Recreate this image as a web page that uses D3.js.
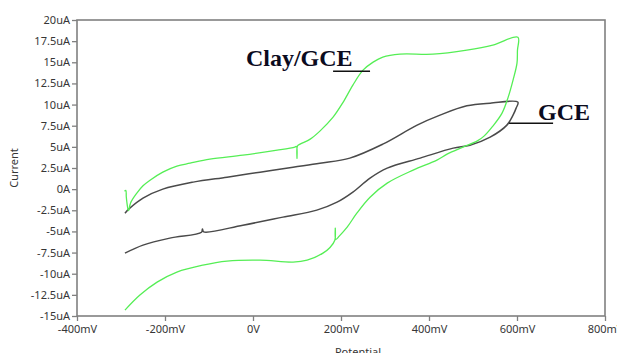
<!DOCTYPE html>
<html>
<head>
<meta charset="utf-8">
<script src="https://cdn.jsdelivr.net/npm/d3@7/dist/d3.min.js"></script>
<style>
  html, body { margin: 0; padding: 0; background: #fff; }
  svg { display: block; }
  .tick-label { font-family: "Noto Sans", sans-serif; font-size: 11px; fill: #363636; }
  .note { font-family: "Liberation Serif", "Times New Roman", serif; font-weight: bold; font-size: 24px; fill: #0b0b1e; }
</style>
</head>
<body>
<svg id="chart" width="617" height="353"></svg>
<script>
// Cyclic voltammograms: potential (mV) vs current (uA)
const clayPotential = [-292, -289, -288, -286, -283, -278, -264, -250, -234, -205, -173, -143, -98, -23, 55, 95, 99, 100, 101, 107, 130, 152, 182, 205, 227, 250, 273, 295, 334, 409, 486, 545, 602,
  601, 600, 591, 580, 566, 545, 525, 509, 477, 441, 418, 364, 305, 266, 236, 214, 196, 188, 187, 186, 175, 159, 123, 91, 16, -59, -114, -173, -218, -257, -291];
const clayCurrent = [-0.25, -0.15, -0.9, -1.8, -2.55, -1.6, -0.47, 0.4, 1.06, 2.01, 2.72, 3.07, 3.55, 4.02, 4.61, 4.97, 5.05, 3.65, 5.1, 5.32, 5.91, 6.86, 8.51, 10.29, 12.3, 14.07, 15.02, 15.61, 15.96, 15.96, 16.44, 17.03, 17.97,
  16.4, 14.9, 12.89, 10.88, 8.99, 7.45, 6.27, 5.67, 4.97, 4.14, 3.43, 2.25, 0.71, -0.95, -2.84, -4.49, -5.55, -5.95, -4.6, -6.05, -6.9, -7.57, -8.4, -8.63, -8.4, -8.51, -8.99, -9.81, -11.0, -12.53, -14.31];

const gcePotential = [-291, -280, -250, -205, -136, -59, 16, 91, 152, 220, 295, 373, 425, 486, 539, 602,
  598, 591, 577, 539, 493, 455, 380, 305, 266, 227, 191, 145, 68, -23, -112, -115, -117, -189, -250, -291];
const gceCurrent = [-2.84, -2.25, -1.06, 0, 0.83, 1.42, 2.01, 2.6, 3.07, 3.67, 5.32, 7.57, 8.75, 9.85, 10.17, 10.29,
  9.58, 8.75, 7.57, 6.15, 5.2, 4.85, 3.67, 2.48, 1.3, -0.35, -1.54, -2.48, -3.31, -4.26, -5.05, -4.7, -5.1, -5.79, -6.62, -7.57];

const xTickValues = [-400, -200, 0, 200, 400, 600, 800];
const xTickLabels = ["-400mV", "-200mV", "0V", "200mV", "400mV", "600mV", "800mV"];
const yTickValues = [20, 17.5, 15, 12.5, 10, 7.5, 5, 2.5, 0, -2.5, -5, -7.5, -10, -12.5, -15];
const yTickLabels = ["20uA", "17.5uA", "15uA", "12.5uA", "10uA", "7.5uA", "5uA", "2.5uA", "0A", "-2.5uA", "-5uA", "-7.5uA", "-10uA", "-12.5uA", "-15uA"];

const seriesNames = ["Clay/GCE", "GCE"];
const seriesColors = ["#55ee55", "#4a4a4a"];

const svg = d3.select("#chart");
const plot = { left: 77, right: 605, top: 20, bottom: 316 };

const x = d3.scaleLinear().domain([-400, 800]).range([plot.left, plot.right]);
const y = d3.scaleLinear().domain([-15, 20]).range([plot.bottom, plot.top]);

// Plot frame
svg.append("rect")
  .attr("x", plot.left).attr("y", plot.top)
  .attr("width", plot.right - plot.left).attr("height", plot.bottom - plot.top)
  .attr("fill", "none").attr("stroke", "#808080").attr("stroke-width", 1.6);

// Axes
const xAxis = d3.axisBottom(x).tickValues(xTickValues)
  .tickFormat((d, i) => xTickLabels[i]).tickSize(5).tickPadding(4);
const gx = svg.append("g").attr("transform", `translate(0,${plot.bottom})`).call(xAxis);
gx.select(".domain").remove();
gx.selectAll(".tick line").attr("stroke", "#808080").attr("stroke-width", 1.3);
gx.selectAll(".tick text").attr("class", "tick-label").attr("font-size", null).attr("font-family", null).attr("fill", null);

const yAxis = d3.axisLeft(y).tickValues(yTickValues)
  .tickFormat((d, i) => yTickLabels[i]).tickSize(5).tickPadding(2);
const gy = svg.append("g").attr("transform", `translate(${plot.left},0)`).call(yAxis);
gy.select(".domain").remove();
gy.selectAll(".tick line").attr("stroke", "#808080").attr("stroke-width", 1.3);
gy.selectAll(".tick text").attr("class", "tick-label").attr("font-size", null).attr("font-family", null).attr("fill", null);

// Axis titles
svg.append("text").attr("class", "tick-label")
  .attr("x", 358).attr("y", 356).attr("text-anchor", "middle").text("Potential");
svg.append("text").attr("class", "tick-label")
  .attr("transform", `translate(18,${(plot.top + plot.bottom) / 2}) rotate(-90)`)
  .attr("text-anchor", "middle").text("Current");

// Curves
const line = d3.line()
  .x(d => x(d[0])).y(d => y(d[1]))
  .curve(d3.curveCatmullRom.alpha(0.5));

const series = [
  d3.zip(gcePotential, gceCurrent),
  d3.zip(clayPotential, clayCurrent)
];
const colorsOrdered = [seriesColors[1], seriesColors[0]];
const widths = [1.5, 1.3];

svg.append("g").selectAll("path")
  .data(series).join("path")
  .attr("d", line)
  .attr("fill", "none")
  .attr("stroke", (d, i) => colorsOrdered[i])
  .attr("stroke-width", (d, i) => widths[i])
  .attr("stroke-linejoin", "round");

// Curve labels with leader lines
const notes = [
  { name: seriesNames[0], tx: -16, ty: 14.54, l0: 182, l1: 266, ly: 13.95 },
  { name: seriesNames[1], tx: 648, ty: 8.16, l0: 582, l1: 682, ly: 7.8 }
];
notes.forEach(n => {
  svg.append("text").attr("class", "note")
    .attr("x", x(n.tx)).attr("y", y(n.ty)).text(n.name);
  svg.append("line")
    .attr("x1", x(n.l0)).attr("x2", x(n.l1))
    .attr("y1", y(n.ly)).attr("y2", y(n.ly))
    .attr("stroke", "#111").attr("stroke-width", 1.5);
});
</script>
</body>
</html>
